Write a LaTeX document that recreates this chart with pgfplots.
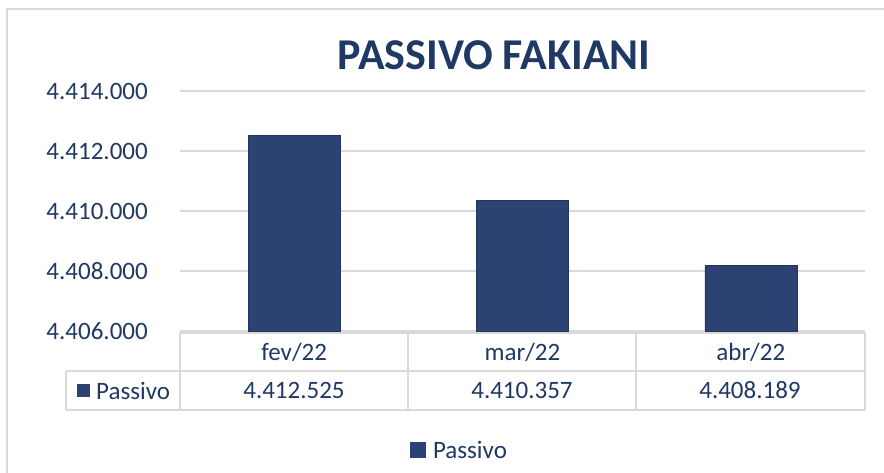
\documentclass[border=0pt]{standalone}
\usepackage{pgfplots}
\pgfplotsset{compat=1.18}
\usepackage{pgfplotstable}
\usepackage{fontspec}
\setmainfont{Carlito}
\definecolor{navy}{HTML}{1F3864}
\definecolor{barcol}{HTML}{2B4272}
\definecolor{gridc}{HTML}{D9D9D9}
\pgfplotstableread{
x v
0 4412525
1 4410357
2 4408189
}\passivo
\begin{document}
\begin{tikzpicture}[x=1pt,y=1pt]
\useasboundingbox (-180,-142) rectangle (704,331);
\draw[gridc, line width=2pt] (-173,-400) -- (-173,322) -- (900,322);
\begin{axis}[at={(0,0)}, anchor=south west, scale only axis, width=685pt, height=240pt,
 xmin=-0.5, xmax=2.5, ymin=0, ymax=8000,
 ybar, bar width=92pt,
 axis line style={draw=none}, major tick length=0pt,
 ytick={0,2000,4000,6000,8000},
 yticklabels={4.406.000,4.408.000,4.410.000,4.412.000,4.414.000},
 xtick={0,1,2}, xticklabels={fev/22,mar/22,abr/22},
 ymajorgrids, grid style={gridc, line width=2pt},
 tick label style={font=\fontsize{25}{30}\selectfont, text=navy},
 yticklabel style={anchor=east, inner sep=0pt, xshift=-32pt},
 xticklabel style={anchor=center, inner sep=0pt, yshift=-21pt},
 clip=false,
 legend style={at={(0.408,-0.5)}, anchor=center, draw=none, fill=none, column sep=5pt, font=\fontsize{25}{30}\selectfont, text=navy},
 legend image code/.code={\fill[barcol, draw=none] (0pt,-7.5pt) rectangle (16pt,8.5pt);},
]
\addplot[fill=barcol, draw=barcol!80!black] table[x=x, y expr=\thisrow{v}-4406000] {\passivo};
\addlegendentry{Passivo}
\end{axis}
\draw[gridc, line width=2pt] (0,-2) -- (685,-2);
\draw[gridc, line width=2pt] (-114,-40) -- (685,-40);
\draw[gridc, line width=2pt] (-114,-79) -- (685,-79);
\draw[gridc, line width=2pt] (0,-2) -- (0,-79);
\draw[gridc, line width=2pt] (228,0) -- (228,-79);
\draw[gridc, line width=2pt] (456,0) -- (456,-79);
\draw[gridc, line width=2pt] (685,-2) -- (685,-79);
\draw[gridc, line width=2pt] (-114,-40) -- (-114,-79);
\fill[barcol] (-103,-66.5) rectangle (-90,-53.5);
\node[anchor=west, inner sep=0pt, text=navy, font=\fontsize{25}{30}\selectfont] at (-84,-60) {Passivo};
\node[text=navy, font=\fontsize{25}{30}\selectfont] at (114,-59) {4.412.525};
\node[text=navy, font=\fontsize{25}{30}\selectfont] at (342,-59) {4.410.357};
\node[text=navy, font=\fontsize{25}{30}\selectfont] at (570,-59) {4.408.189};
\node[text=navy, font=\fontsize{44}{52}\selectfont\bfseries] at (314,276) {PASSIVO FAKIANI};
\end{tikzpicture}
\end{document}
